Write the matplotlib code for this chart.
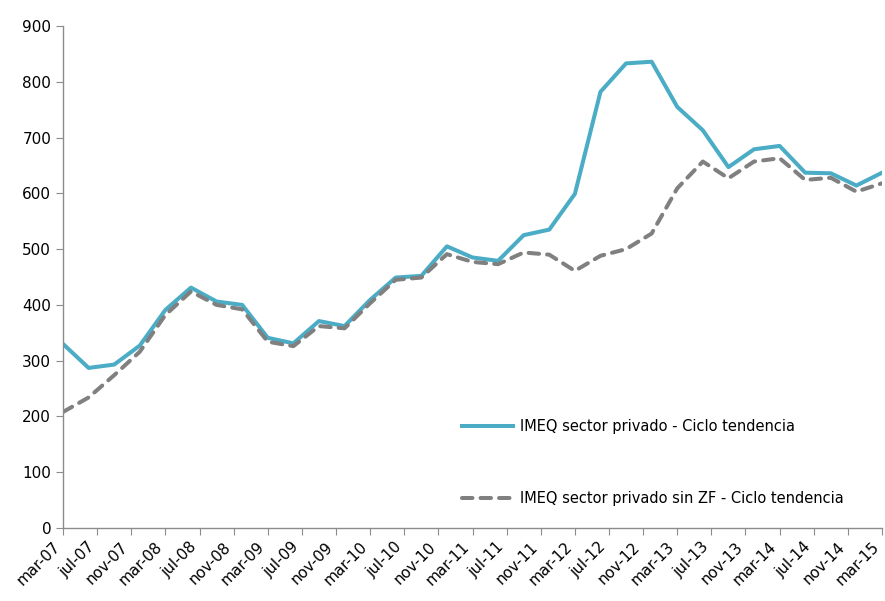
import numpy as np
import matplotlib.pyplot as plt

# Quarterly data, mar-07 .. mar-15 (months since mar-07)
months = np.arange(0, 97, 3)

imeq = [330, 287, 293, 327, 391, 431, 406, 400, 341, 331,
        371, 362, 409, 449, 452, 505, 485, 479, 525, 535,
        599, 782, 833, 836, 755, 713, 647, 679, 685, 637,
        636, 614, 637]

imeq_sin_zf = [208, 234, 274, 316, 382, 424, 400, 392, 334, 326,
               362, 358, 403, 445, 449, 491, 477, 473, 494, 490,
               461, 488, 500, 528, 609, 657, 627, 657, 663, 624,
               628, 603, 618]

tick_labels = ['mar-07', 'jul-07', 'nov-07', 'mar-08', 'jul-08', 'nov-08',
               'mar-09', 'jul-09', 'nov-09', 'mar-10', 'jul-10', 'nov-10',
               'mar-11', 'jul-11', 'nov-11', 'mar-12', 'jul-12', 'nov-12',
               'mar-13', 'jul-13', 'nov-13', 'mar-14', 'jul-14', 'nov-14',
               'mar-15']
tick_pos = np.arange(0, 97, 4)

plt.rcParams['font.family'] = 'DejaVu Sans'

fig = plt.figure(figsize=(8.85, 6.01), dpi=100)
ax = fig.add_axes([0.0712, 0.1215, 0.9254, 0.8352])

ax.plot(months, imeq, color='#4BACC6', lw=2.9,
        label='IMEQ sector privado - Ciclo tendencia')
ax.plot(months, imeq_sin_zf, color='#808080', lw=2.9, dashes=(2.6, 2.0),
        dash_capstyle='round', label='IMEQ sector privado sin ZF - Ciclo tendencia')

ax.set_xlim(0, 96)
ax.set_ylim(0, 900)
ax.set_yticks(range(0, 901, 100))
ax.set_xticks(tick_pos)
ax.set_xticklabels(tick_labels, rotation=45, ha='right')

for s in ['top', 'right']:
    ax.spines[s].set_visible(False)
for s in ['left', 'bottom']:
    ax.spines[s].set_color('#8c8c8c')
    ax.spines[s].set_linewidth(1)
ax.tick_params(axis='both', colors='#8c8c8c', labelcolor='black',
               labelsize=11, length=5, direction='out')
ax.tick_params(axis='x', pad=3)

ax.legend(loc='upper left', bbox_to_anchor=(0.48, 0.228), frameon=False,
          fontsize=10.5, handlelength=3.5, handletextpad=0.5, labelspacing=3.9,
          borderaxespad=0)

fig.savefig('out.png', dpi=100)
